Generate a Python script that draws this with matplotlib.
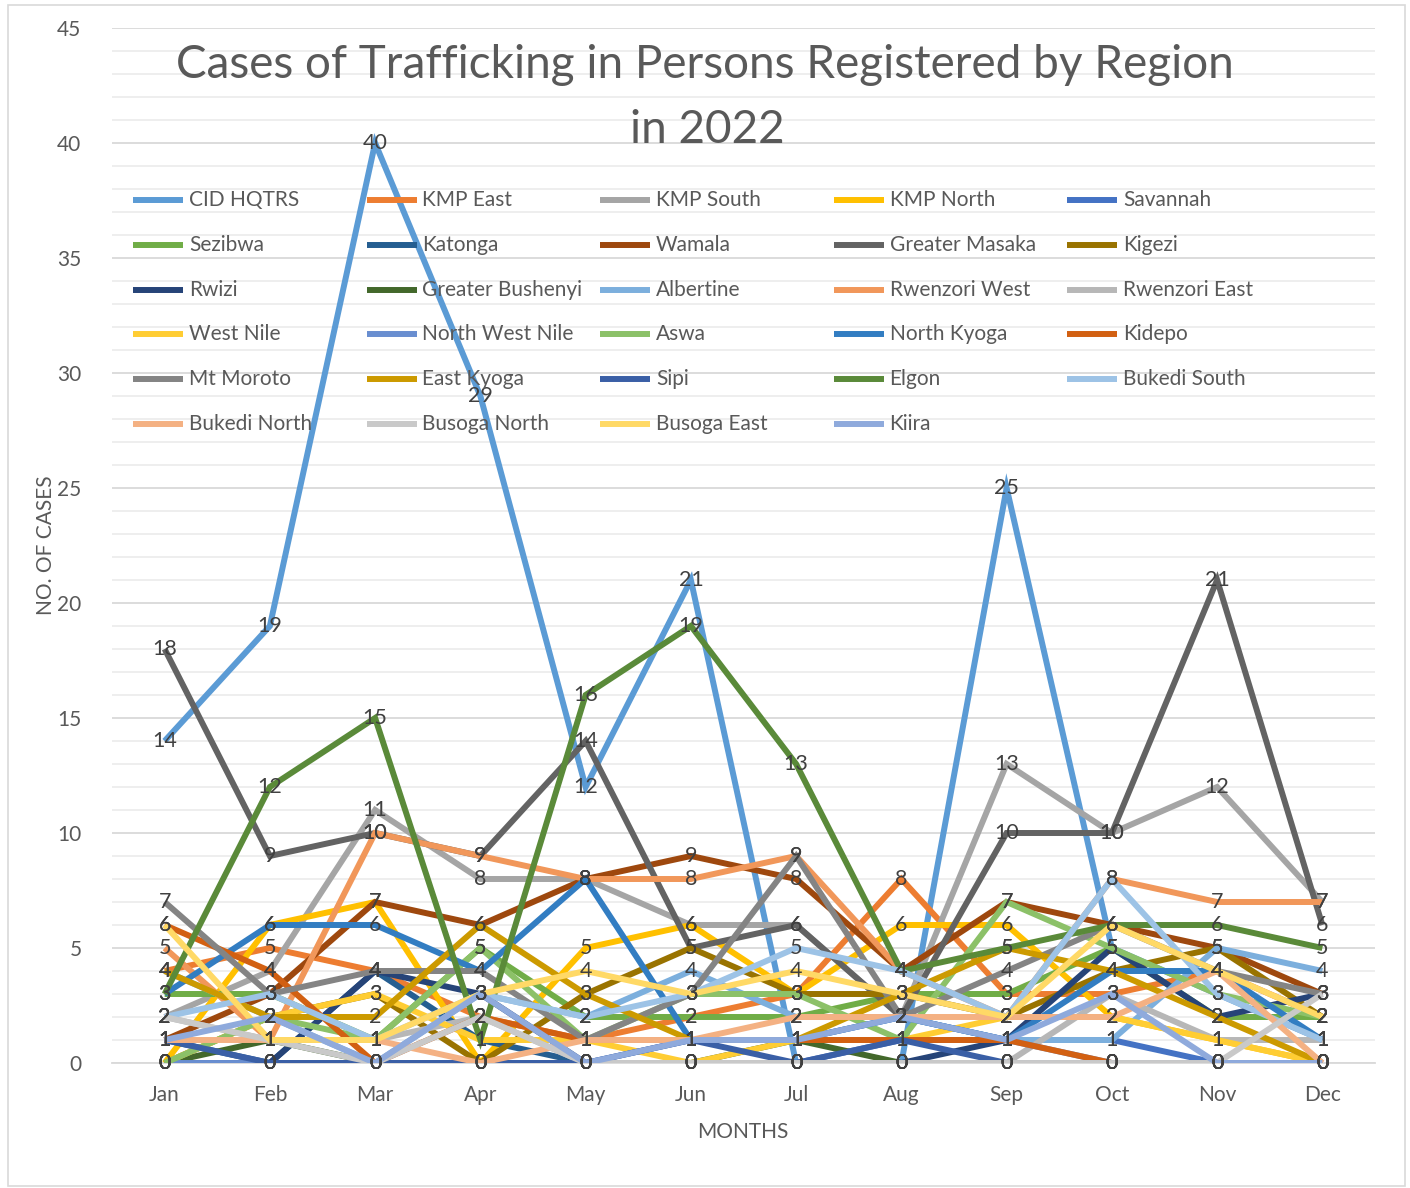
import matplotlib
matplotlib.use("Agg")
import matplotlib.pyplot as plt
from matplotlib.lines import Line2D
from matplotlib.patches import Rectangle
from matplotlib.ticker import MultipleLocator

plt.rcParams['font.family'] = ['Lato', 'DejaVu Sans']

months = ["Jan", "Feb", "Mar", "Apr", "May", "Jun", "Jul", "Aug", "Sep", "Oct", "Nov", "Dec"]

regions = ["CID HQTRS", "KMP East", "KMP South", "KMP North", "Savannah",
           "Sezibwa", "Katonga", "Wamala", "Greater Masaka", "Kigezi",
           "Rwizi", "Greater Bushenyi", "Albertine", "Rwenzori West", "Rwenzori East",
           "West Nile", "North West Nile", "Aswa", "North Kyoga", "Kidepo",
           "Mt Moroto", "East Kyoga", "Sipi", "Elgon", "Bukedi South",
           "Bukedi North", "Busoga North", "Busoga East", "Kiira"]

cid_hqtrs = [14, 19, 40, 29, 12, 21, 0, 0, 25, 5, 3, 1]
kmp_east = [4, 5, 4, 2, 1, 2, 3, 8, 3, 3, 4, 2]
kmp_south = [2, 4, 11, 8, 8, 6, 6, 2, 13, 10, 12, 7]
kmp_north = [0, 6, 7, 0, 5, 6, 3, 6, 6, 2, 1, 0]
savannah = [0, 0, 0, 0, 0, 0, 0, 1, 1, 1, 0, 0]
sezibwa = [3, 3, 1, 5, 2, 2, 2, 3, 3, 5, 2, 2]
katonga = [1, 0, 4, 1, 0, 0, 0, 0, 0, 0, 0, 0]
wamala = [1, 3, 7, 6, 8, 9, 8, 4, 7, 6, 5, 3]
greater_masaka = [18, 9, 10, 9, 14, 5, 6, 2, 10, 10, 21, 6]
kigezi = [0, 2, 3, 0, 3, 5, 3, 3, 2, 4, 5, 2]
rwizi = [0, 0, 4, 3, 0, 0, 0, 0, 1, 5, 2, 3]
greater_bushenyi = [0, 1, 0, 0, 0, 0, 1, 0, 0, 0, 0, 0]
albertine = [4, 2, 0, 3, 2, 4, 2, 2, 1, 1, 5, 4]
rwenzori_west = [5, 1, 10, 9, 8, 8, 9, 4, 2, 8, 7, 7]
rwenzori_east = [2, 1, 1, 2, 0, 0, 0, 0, 0, 3, 1, 1]
west_nile = [0, 2, 3, 1, 1, 0, 1, 1, 2, 2, 1, 0]
north_west_nile = [0, 0, 0, 0, 0, 1, 1, 2, 1, 0, 0, 0]
aswa = [0, 2, 1, 5, 1, 3, 3, 1, 7, 5, 3, 2]
north_kyoga = [3, 6, 6, 4, 8, 1, 1, 2, 1, 4, 4, 1]
kidepo = [6, 4, 0, 2, 1, 1, 1, 1, 1, 0, 0, 0]
mt_moroto = [7, 3, 4, 4, 1, 3, 9, 2, 4, 6, 4, 3]
east_kyoga = [4, 2, 2, 6, 3, 1, 1, 3, 5, 4, 2, 0]
sipi = [1, 0, 0, 0, 0, 1, 0, 1, 0, 0, 0, 0]
elgon = [3, 12, 15, 1, 16, 19, 13, 4, 5, 6, 6, 5]
bukedi_south = [2, 3, 1, 3, 2, 3, 5, 4, 2, 8, 3, 1]
bukedi_north = [1, 1, 1, 0, 1, 1, 2, 2, 2, 2, 4, 0]
busoga_north = [2, 1, 0, 2, 0, 0, 0, 0, 0, 0, 0, 3]
busoga_east = [6, 1, 1, 3, 4, 3, 4, 3, 2, 6, 4, 2]
kiira = [1, 2, 0, 3, 0, 1, 1, 2, 1, 3, 0, 0]

series = [cid_hqtrs, kmp_east, kmp_south, kmp_north, savannah,
          sezibwa, katonga, wamala, greater_masaka, kigezi,
          rwizi, greater_bushenyi, albertine, rwenzori_west, rwenzori_east,
          west_nile, north_west_nile, aswa, north_kyoga, kidepo,
          mt_moroto, east_kyoga, sipi, elgon, bukedi_south,
          bukedi_north, busoga_north, busoga_east, kiira]

colors = ["#5B9BD5", "#ED7D31", "#A5A5A5", "#FFC000", "#4472C4",
          "#70AD47", "#255E91", "#9E480E", "#636363", "#997300",
          "#264478", "#43682B", "#7CAFDD", "#F1975A", "#B7B7B7",
          "#FFCD33", "#698ED0", "#8CC168", "#327DC2", "#D26012",
          "#848484", "#CC9A00", "#3A5FA6", "#5A8A39", "#9DC3E6",
          "#F4B183", "#C9C9C9", "#FFD966", "#8FAADC"]

W, H = 1410, 1188
fig = plt.figure(figsize=(W / 100, H / 100), dpi=100)
ax = fig.add_axes([112 / W, 1 - 1063 / H, (1375 - 112) / W, (1063 - 28) / H])

x = list(range(len(months)))
for vals, col, name in zip(series, colors, regions):
    ax.plot(x, vals, color=col, lw=4.3, solid_capstyle='butt', solid_joinstyle='miter', zorder=3)
for vals in series:
    for xi, v in zip(x, vals):
        ax.text(xi, v, str(v), ha='center', va='center', fontsize=15.5, color='#404040', zorder=5)

ax.set_xlim(-0.5, 11.5)
ax.set_ylim(0, 45)
ax.yaxis.set_major_locator(MultipleLocator(5))
ax.yaxis.set_minor_locator(MultipleLocator(1))
ax.grid(which='major', axis='y', color='#D9D9D9', lw=1.3, zorder=0)
ax.grid(which='minor', axis='y', color='#EDEDED', lw=1.3, zorder=0)
ax.set_axisbelow(True)
ax.set_xticks(x)
ax.set_xticklabels(months)
ax.tick_params(axis='both', which='both', length=0, labelsize=15, labelcolor='#595959')
ax.tick_params(axis='x', pad=16)
ax.tick_params(axis='y', pad=22)
for s in ['left', 'right', 'top']:
    ax.spines[s].set_visible(False)
ax.spines['bottom'].set_color('#D9D9D9')
ax.spines['bottom'].set_linewidth(1.3)

fig.text(743 / W, 1 - 1132 / H, "MONTHS", ha='center', va='center', fontsize=15, color='#595959')
fig.text(46 / W, 1 - 545 / H, "NO. OF CASES", ha='center', va='center', rotation=90, fontsize=15, color='#595959')

fig.text(705 / W, 1 - 65 / H, "Cases of Trafficking in Persons Registered by Region",
         ha='center', va='center', fontsize=33, color='#595959')
fig.text(707 / W, 1 - 130 / H, "in 2022",
         ha='center', va='center', fontsize=33, color='#595959')

# legend, row-major like the original
for i, (name, col) in enumerate(zip(regions, colors)):
    c, r = i % 5, i // 5
    x0 = 133 + c * 233.5
    y0 = 200 + r * 44.8
    fig.add_artist(Line2D([x0 / W, (x0 + 50) / W], [1 - y0 / H, 1 - y0 / H],
                          color=col, lw=4.3, solid_capstyle='butt'))
    fig.text((x0 + 56) / W, 1 - y0 / H, name, ha='left', va='center',
             fontsize=15, color='#595959')

fig.add_artist(Rectangle((8 / W, 1 - 1186 / H), (1405 - 8) / W, (1186 - 5) / H,
                         fill=False, edgecolor='#D9D9D9', lw=1.2, transform=fig.transFigure))

fig.savefig("out.png", dpi=100)
